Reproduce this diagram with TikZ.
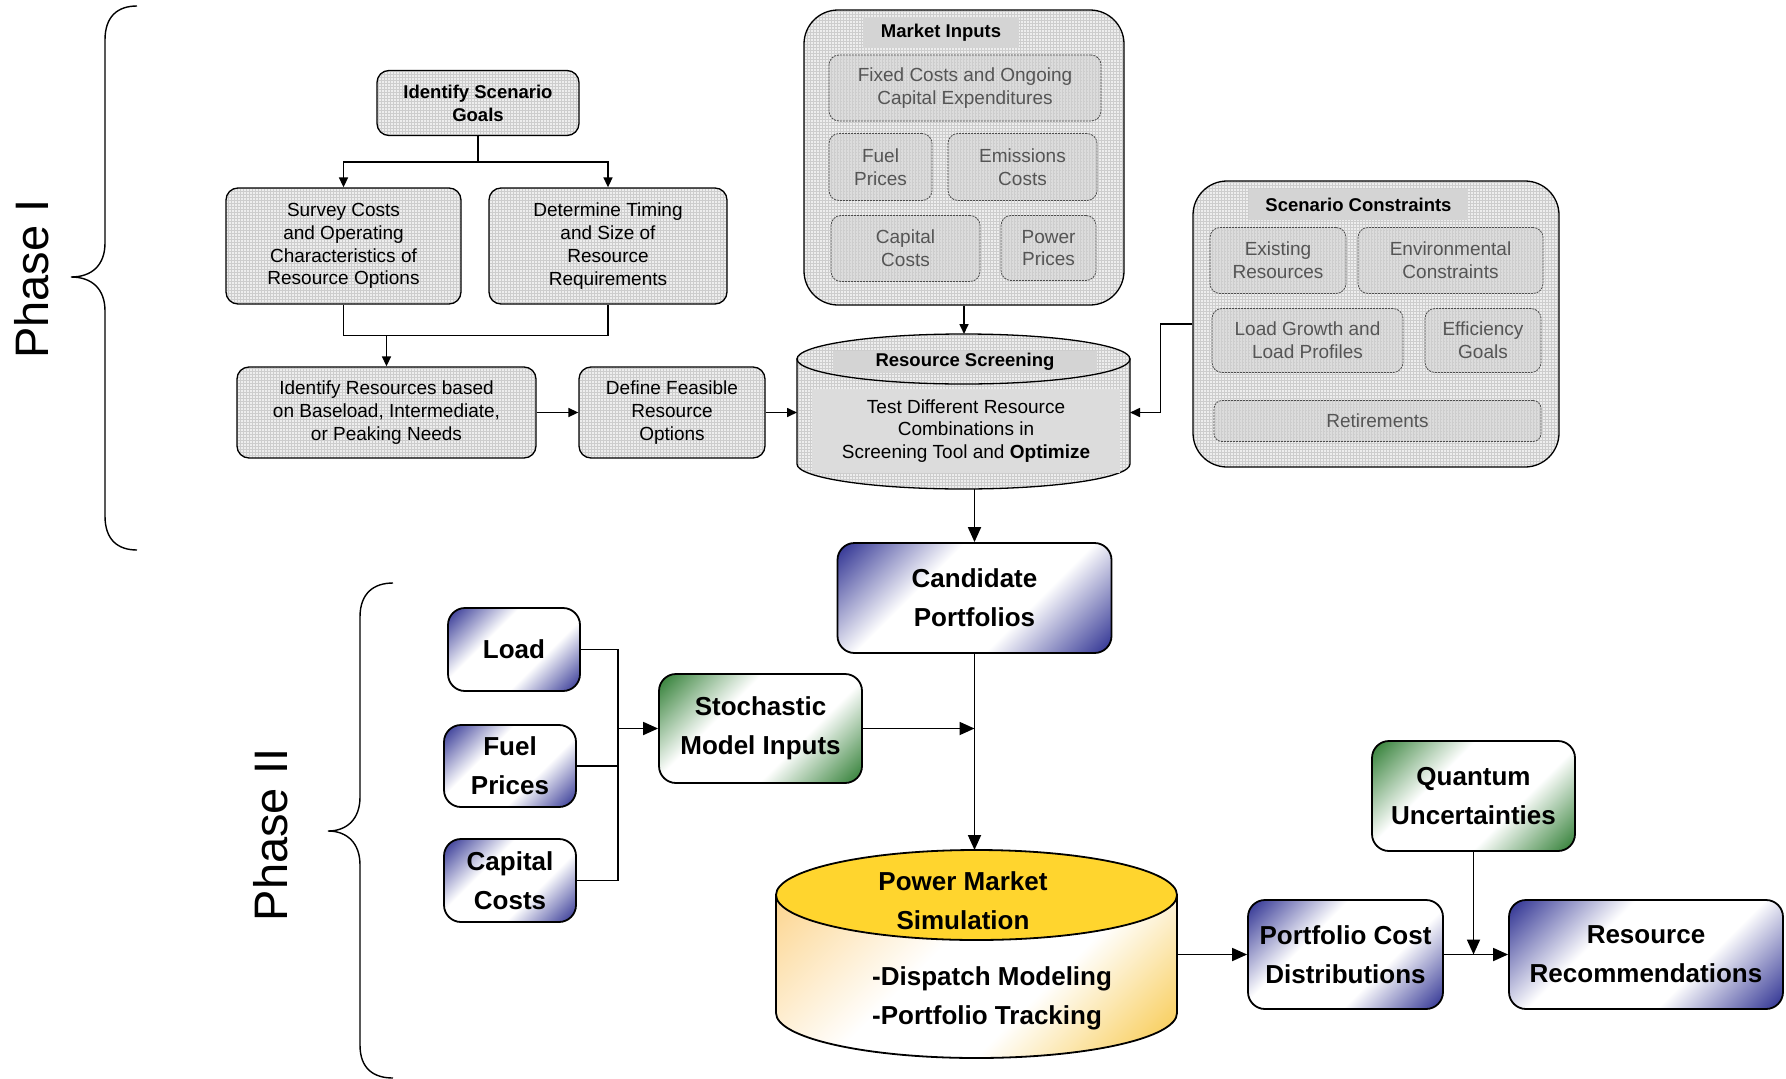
\documentclass[tikz,border=0pt]{standalone}
\usepackage{fontspec}
\setmainfont{Liberation Sans}
\usetikzlibrary{arrows.meta,patterns}
\definecolor{navy}{RGB}{46,49,146}
\definecolor{leaf}{RGB}{46,125,50}
\definecolor{sunny}{RGB}{255,213,46}
\definecolor{peach}{RGB}{252,212,140}
\definecolor{amber}{RGB}{247,196,60}
\definecolor{boxgrey}{RGB}{238,238,238}
\definecolor{gridgrey}{RGB}{205,205,205}
\definecolor{innergrey}{RGB}{220,220,220}
\definecolor{labelgrey}{RGB}{212,212,212}
\definecolor{softtext}{RGB}{85,85,85}
\pgfdeclareverticalshading{bluecorner}{100bp}{color(0bp)=(navy); color(15bp)=(navy); color(38bp)=(white); color(62bp)=(white); color(85bp)=(navy); color(100bp)=(navy)}
\pgfdeclareverticalshading{greencorner}{100bp}{color(0bp)=(leaf); color(15bp)=(leaf); color(38bp)=(white); color(62bp)=(white); color(85bp)=(leaf); color(100bp)=(leaf)}
\pgfdeclareverticalshading{pmsbody}{100bp}{color(0bp)=(amber); color(14bp)=(amber); color(40bp)=(white); color(58bp)=(white); color(86bp)=(peach); color(100bp)=(peach)}
\begin{document}
\begin{tikzpicture}[x=1pt,y=-1pt,
    small/.style={font=\fontsize{19}{22.8}\selectfont},
    large/.style={font=\fontsize{26}{39}\selectfont\bfseries},
    phasebox/.style={small, draw, line width=1.3pt, rounded corners=12pt, preaction={fill=boxgrey}, pattern=grid, pattern color=gridgrey, align=center, inner sep=0pt},
    panel/.style={draw, line width=1.3pt, rounded corners=34pt, preaction={fill=boxgrey}, pattern=grid, pattern color=gridgrey, inner sep=0pt},
    paneltitle/.style={small, fill=labelgrey, inner sep=0pt, font=\fontsize{18.5}{22.8}\selectfont\bfseries},
    innerbox/.style={small, draw=black!70, dash pattern=on 2pt off 1pt, line width=0.8pt, rounded corners=10pt, preaction={fill=innergrey}, pattern=grid, pattern color=gridgrey, text=softtext, align=center, inner sep=0pt},
    cylgrey/.style={draw, line width=1.3pt, preaction={fill=boxgrey}, pattern=grid, pattern color=gridgrey},
    bluebox/.style={large, draw, line width=1.8pt, rounded corners=17pt, shade, shading=bluecorner, shading angle=45, align=center, inner sep=0pt},
    greenbox/.style={bluebox, shading=greencorner, shading angle=45},
    brace/.style={line width=1.4pt},
    link/.style={line width=1.6pt},
    arr/.style={link, -{Triangle[length=10pt,width=9pt]}},
    bigarr/.style={line width=1.8pt, -{Triangle[length=15pt,width=13pt]}}]
  \useasboundingbox (0,0) rectangle (1786,1079);

  \draw[brace] (137,6) .. controls (118,6) and (105,16) .. (105,40) -- (105,243)
    .. controls (105,265) and (92,277) .. (71,277) .. controls (92,277) and (105,289) .. (105,311)
    -- (105,516) .. controls (105,540) and (118,550) .. (137,550);
  \draw[brace] (393,583) .. controls (374,583) and (360,593) .. (360,617) -- (360,797)
    .. controls (360,819) and (347,831) .. (328,831) .. controls (347,831) and (360,843) .. (360,865)
    -- (360,1045) .. controls (360,1069) and (374,1078) .. (393,1078);
  \node[rotate=90, font=\fontsize{47}{56}\selectfont] (phaseone) at (32,279) {Phase I};
  \node[rotate=90, font=\fontsize{47}{56}\selectfont] (phasetwo) at (271,835) {Phase II};

  \node[phasebox, minimum width=202pt, minimum height=65pt, font=\fontsize{18.5}{22.8}\selectfont\bfseries] (goals) at (478,103) {Identify Scenario\\Goals};
  \node[phasebox, minimum width=235pt, minimum height=116pt] (survey) at (343.5,246) {Survey Costs\\and Operating\\Characteristics of\\Resource Options};
  \node[phasebox, minimum width=238pt, minimum height=116pt] (timing) at (608,246) {Determine Timing\\and Size of\\Resource\\Requirements};
  \node[phasebox, minimum width=299pt, minimum height=91pt] (ident) at (386.5,412.5) {Identify Resources based\\on Baseload, Intermediate,\\or Peaking Needs};
  \node[phasebox, minimum width=186pt, minimum height=91pt] (feasible) at (672,412.5) {Define Feasible\\Resource\\Options};

  \node[panel, minimum width=320pt, minimum height=295pt] (mkt) at (964,157.5) {};
  \node[paneltitle, minimum width=156pt, minimum height=31pt] (mkttitle) at (941,32.5) {Market Inputs};
  \node[innerbox, minimum width=272pt, minimum height=66pt] (fixed) at (965,88) {Fixed Costs and Ongoing\\Capital Expenditures};
  \node[innerbox, minimum width=103pt, minimum height=67pt] (fuelp) at (880.5,167) {Fuel\\Prices};
  \node[innerbox, minimum width=149pt, minimum height=67pt] (emis) at (1022.5,167) {Emissions\\Costs};
  \node[innerbox, minimum width=149pt, minimum height=66pt] (capc) at (905.5,248.5) {Capital\\Costs};
  \node[innerbox, minimum width=95pt, minimum height=65pt] (powp) at (1048.5,248) {Power\\Prices};

  \node[panel, minimum width=366pt, minimum height=286pt] (scn) at (1376,324) {};
  \node[paneltitle, minimum width=219pt, minimum height=31pt] (scntitle) at (1358.5,204.5) {Scenario Constraints};
  \node[innerbox, minimum width=136pt, minimum height=66pt] (exist) at (1278,260.5) {Existing\\Resources};
  \node[innerbox, minimum width=185pt, minimum height=66pt] (envc) at (1450.5,260.5) {Environmental\\Constraints};
  \node[innerbox, minimum width=191pt, minimum height=64pt] (loadg) at (1307.5,340.5) {Load Growth and\\Load Profiles};
  \node[innerbox, minimum width=116pt, minimum height=64pt] (effg) at (1483,340.5) {Efficiency\\Goals};
  \node[innerbox, minimum width=327pt, minimum height=41pt, rounded corners=8pt] (retire) at (1377.5,421) {Retirements};

  \draw[cylgrey] (797,359) -- (797,464) arc[start angle=180, end angle=0, x radius=166.5, y radius=25] -- (1130,359) -- cycle;
  \draw[cylgrey] (963.5,359) ellipse[x radius=166.5, y radius=25];
  \coordinate (scrT) at (964,334);
  \coordinate (scrL) at (797,412.5);
  \coordinate (scrR) at (1130,412.5);
  \coordinate (scrB) at (974.5,489);
  \node[paneltitle, minimum width=264pt, minimum height=22pt] (scrtitle) at (965,362) {Resource Screening};
  \node[small, fill=innergrey, align=center, inner sep=0pt, minimum width=308pt, minimum height=84pt] (scrbody) at (966,431) {Test Different Resource\\Combinations in\\Screening Tool and \textbf{Optimize}};

  \draw[arr] (goals.south) -- ++(0,26) -| (survey.north);
  \draw[arr] (goals.south) -- ++(0,26) -| (timing.north);
  \draw[link] (survey.south) -- ++(0,31) -| (timing.south);
  \coordinate (merge) at (386.5,335);
  \draw[arr] (merge) -- (ident.north);
  \draw[arr] (ident.east) -- (feasible.west);
  \draw[arr] (feasible.east) -- (scrL);
  \draw[arr] (mkt.south) -- (scrT);
  \draw[arr] (scn.west) -- ++(-32,0) |- (scrR);

  \node[bluebox, minimum width=274pt, minimum height=110pt] (cand) at (974.5,598) {Candidate\\Portfolios};
  \node[bluebox, minimum width=132pt, minimum height=83pt] (load) at (514,649.5) {Load};
  \node[bluebox, minimum width=132pt, minimum height=82pt] (fuel) at (510,766) {Fuel\\Prices};
  \node[bluebox, minimum width=132pt, minimum height=83pt] (capital) at (510,880.5) {Capital\\Costs};
  \node[greenbox, minimum width=203pt, minimum height=109pt] (stoch) at (760.5,728.5) {Stochastic\\Model Inputs};
  \node[greenbox, minimum width=203pt, minimum height=110pt] (quant) at (1473.5,796) {Quantum\\Uncertainties};
  \node[bluebox, minimum width=195pt, minimum height=109pt] (pcd) at (1345.5,954.5) {Portfolio Cost\\Distributions};
  \node[bluebox, minimum width=274pt, minimum height=109pt] (rec) at (1646,954.5) {Resource\\Recommendations};

  \path[draw, line width=1.8pt, shade, shading=pmsbody, shading angle=45] (776,895) -- (776,1013) arc[start angle=180, end angle=0, x radius=200.5, y radius=45] -- (1177,895) -- cycle;
  \draw[line width=1.8pt, fill=sunny] (976.5,895) ellipse[x radius=200.5, y radius=45];
  \coordinate (pmsT) at (974.5,850);
  \coordinate (pmsR) at (1177,954.5);
  \node[large, align=center, inner sep=0pt] (pmstitle) at (963,901) {Power Market\\Simulation};
  \node[large, align=left, inner sep=0pt, anchor=west] (pmsbody) at (872,998) {-Dispatch Modeling\\-Portfolio Tracking};

  \draw[bigarr] (scrB) -- (cand.north);
  \coordinate (hub) at (618,728.5);
  \draw[link] (load.east) -| (hub);
  \draw[link] (fuel.east) -| (hub);
  \draw[link] (capital.east) -| (hub);
  \draw[bigarr] (hub) -- (stoch.west);
  \draw[bigarr] (cand.south) -- (pmsT);
  \draw[bigarr] (stoch.east) -- (stoch.east -| cand.south);
  \draw[bigarr] (pmsR) -- (pcd.west);
  \draw[bigarr] (pcd.east) -- (rec.west);
  \draw[bigarr] (quant.south) -- (quant.south |- pcd.east);
\end{tikzpicture}
\end{document}
